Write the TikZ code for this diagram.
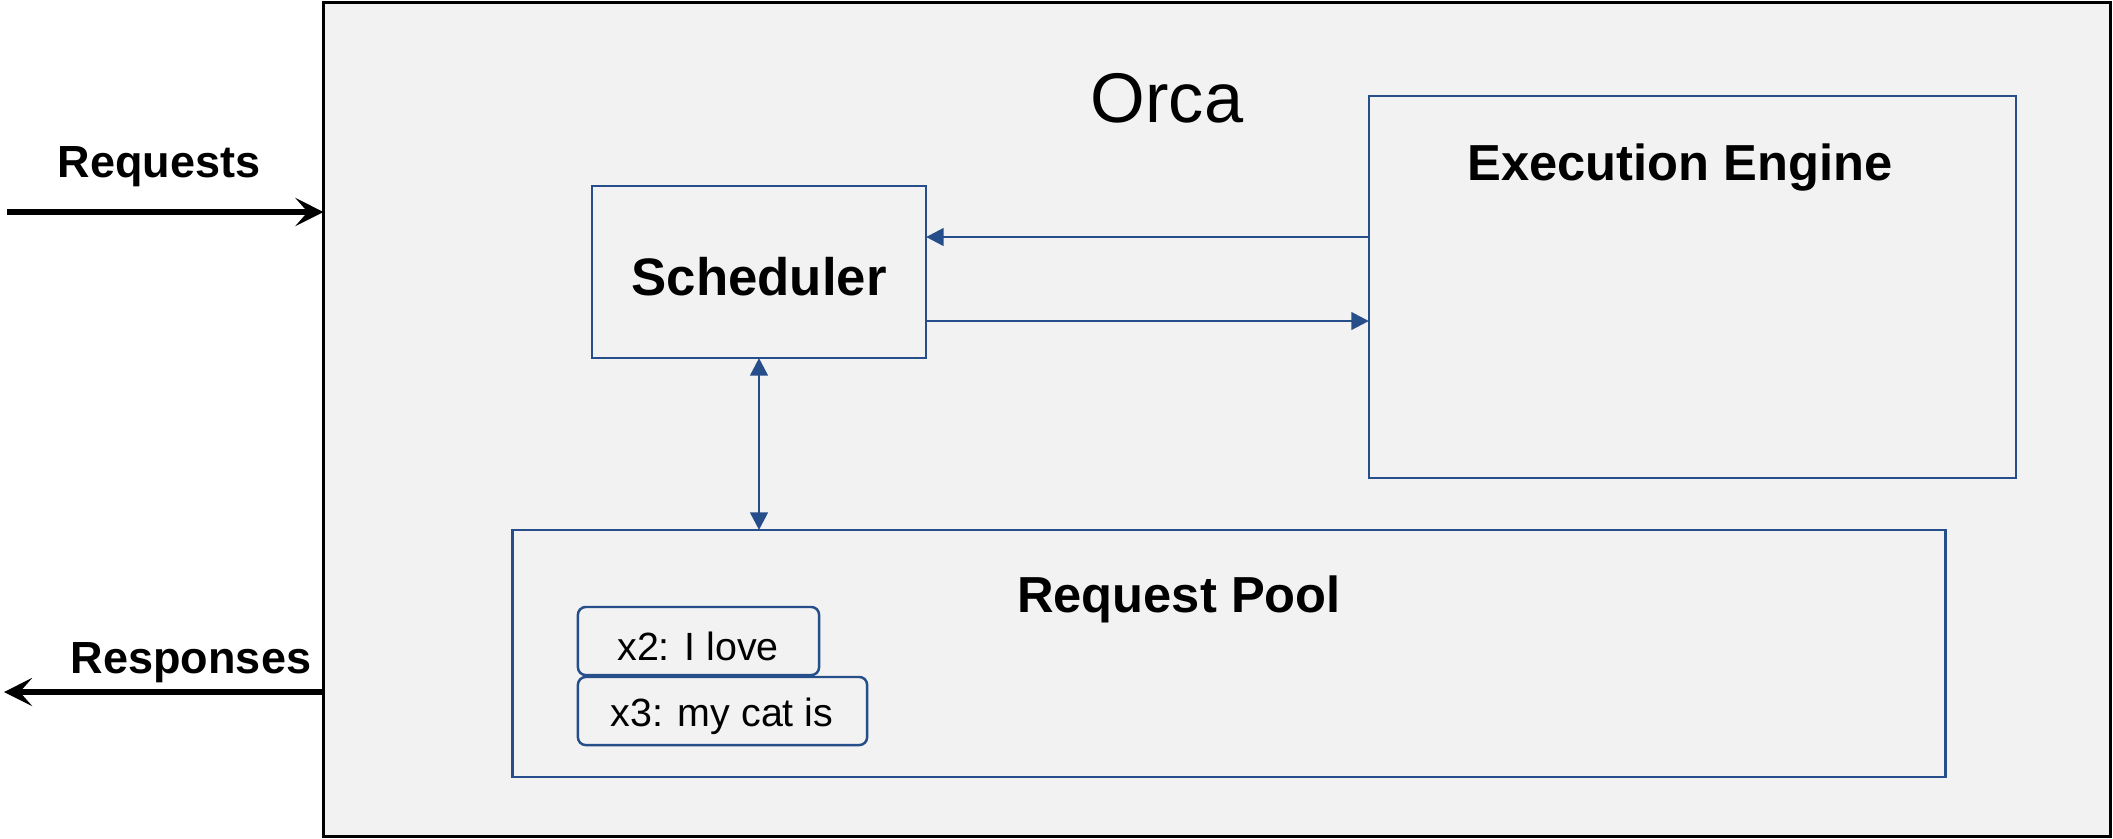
\documentclass[tikz,border=0pt]{standalone}
\usepackage{fontspec}
\setmainfont{Liberation Sans}
\usetikzlibrary{arrows.meta}
\definecolor{panel}{RGB}{242,242,242}
\definecolor{navy}{RGB}{38,78,138}
\tikzset{
  frame/.style={draw=black, fill=panel, line width=0.8pt, inner sep=0pt, outer sep=0pt},
  bluebox/.style={draw=navy, line width=0.7pt, inner sep=0pt, outer sep=0pt},
  tagbox/.style={draw=navy, line width=0.7pt, rounded corners=2.2pt, inner sep=0pt, outer sep=0pt},
  tagtext/.style={font=\fontsize{11.2}{13}\selectfont, inner sep=0pt},
  title/.style={font=\bfseries\fontsize{14.4}{17}\selectfont, inner sep=0pt},
  iolabel/.style={font=\bfseries\fontsize{12.8}{15}\selectfont, inner sep=0pt},
  bluearrow/.style={draw=navy, line width=0.8pt, -{Triangle[length=5pt,width=5pt]}},
  iolink/.style={draw=black, line width=1.6pt, -{Stealth[length=8pt,width=8pt,inset=3.5pt]}}
}
\begin{document}
\begin{tikzpicture}[x=0.01cm,y=-0.01cm]
\useasboundingbox (0,0) rectangle (2113,838);
% outer system box
\node[frame, minimum width=17.86cm, minimum height=8.33cm] (orca) at (1217,419.5) {};
\node[font=\fontsize{20}{24}\selectfont, inner sep=0pt] (orcalabel) at (1167,98) {Orca};
% components
\node[bluebox, minimum width=3.34cm, minimum height=1.72cm] (sched) at (759,272) {};
\node[font=\bfseries\fontsize{15}{18}\selectfont, inner sep=0pt] (schedlabel) at (759,277) {Scheduler};
\node[bluebox, minimum width=6.47cm, minimum height=3.82cm] (ee) at (1692.5,287) {};
\node[title] (eelabel) at (1680,168) {Execution Engine};
\node[bluebox, minimum width=14.32cm, minimum height=2.47cm] (pool) at (1229,653.5) {};
\node[title] (poollabel) at (1179,599) {Request Pool};
\node[tagbox, minimum width=2.41cm, minimum height=0.68cm] (x2) at (698.5,641) {};
\node[tagtext] (x2label) at (698,646) {x2: I love};
\node[tagbox, minimum width=2.89cm, minimum height=0.68cm] (x3) at (722.5,711) {};
\node[tagtext] (x3label) at (722,716) {x3: my cat is};
% internal connectors
\coordinate (ytop) at (0,237);
\coordinate (ybot) at (0,321);
\draw[bluearrow] (ee.west |- ytop) -- (sched.east |- ytop);
\draw[bluearrow] (sched.east |- ybot) -- (ee.west |- ybot);
\draw[bluearrow, {Triangle[length=5pt,width=5pt]}-{Triangle[length=5pt,width=5pt]}] (sched.south) -- (pool.north -| sched.south);
% external I/O
\node[iolabel] (reqlabel) at (159,167) {Requests};
\node[iolabel] (resplabel) at (191,663) {Responses};
\coordinate (reqsrc) at (7,212);
\coordinate (respdst) at (4,692);
\draw[iolink] (reqsrc) -- (orca.west |- reqsrc);
\draw[iolink] (orca.west |- respdst) -- (respdst);
\end{tikzpicture}
\end{document}
